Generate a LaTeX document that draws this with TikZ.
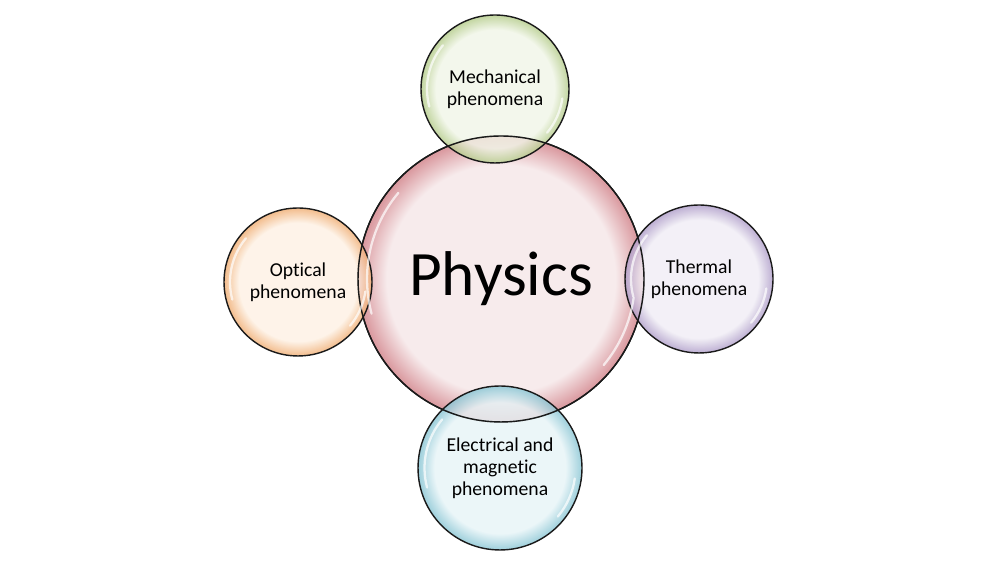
\documentclass[tikz,border=0pt]{standalone}
\usepackage{fontspec}
\setmainfont[Ligatures=NoCommon]{Carlito}
\usetikzlibrary{positioning}

\definecolor{physin}{HTML}{F7EBEC}
\definecolor{physout}{HTML}{D9979D}
\definecolor{mechin}{HTML}{F1F6E8}
\definecolor{mechout}{HTML}{B3CB88}
\definecolor{optin}{HTML}{FEF1E4}
\definecolor{optout}{HTML}{F0AC70}
\definecolor{thermin}{HTML}{F0EDF5}
\definecolor{thermout}{HTML}{AD9BC8}
\definecolor{elecin}{HTML}{E6F4F7}
\definecolor{elecout}{HTML}{86C4D3}
\definecolor{rimline}{HTML}{1A1A1A}

% radial bubble: flat centre, darker rim (25bp = edge of the circle)
\newcommand{\mkbubble}[3]{\pgfdeclareradialshading{#1}{\pgfpointorigin}{color(0bp)=(#2); color(20bp)=(#2); color(25bp)=(#3); color(50bp)=(#3)}}
\mkbubble{physbub}{physin}{physout}
\mkbubble{mechbub}{mechin}{mechout}
\mkbubble{optbub}{optin}{optout}
\mkbubble{thermbub}{thermin}{thermout}
\mkbubble{elecbub}{elecin}{elecout}

\begin{document}
\begin{tikzpicture}[x=0.02cm, y=0.02cm,
    bubble/.style={circle, draw=rimline, line width=0.8pt, align=center, inner sep=0pt, shade},
    small/.style={bubble, minimum size=2.96cm, fill opacity=0.8, text opacity=1,
                  font=\fontsize{11.2}{12.6}\selectfont},
    gloss/.style={white, line width=1.3pt, opacity=0.7, line cap=round}]

  % background
  \fill[white] (0,0) rectangle (1000,563);
  \useasboundingbox (0,0) rectangle (1000,563);

  % main circle
  \node[bubble, shading=physbub, minimum size=5.72cm,
        font=\fontsize{36}{40}\selectfont] (phys) at (501,284) {Physics};

  % outer circles
  \node[small, shading=mechbub] (mech) at (495,474) {Mechanical\\phenomena};
  \node[small, shading=optbub] (opt) at (298,281) {Optical\\phenomena};
  \node[small, shading=thermbub] (therm) at (699,284) {Thermal\\phenomena};
  \node[small, shading=elecbub, minimum size=3.28cm] (elec) at (500,95) {Electrical and\\magnetic\\phenomena};

  % main outline again, over the overlaps
  \draw[rimline, line width=0.8pt] (phys.center) circle[radius=2.86cm];

  % highlights
  \foreach \n/\r in {phys/2.68, mech/1.36, opt/1.36, therm/1.36, elec/1.51} {
    \draw[gloss] (\n.center) ++(140:\r cm) arc[start angle=140, end angle=195, radius=\r cm];
    \draw[gloss] (\n.center) ++(-40:\r cm) arc[start angle=-40, end angle=-8, radius=\r cm];
  }
\end{tikzpicture}
\end{document}
